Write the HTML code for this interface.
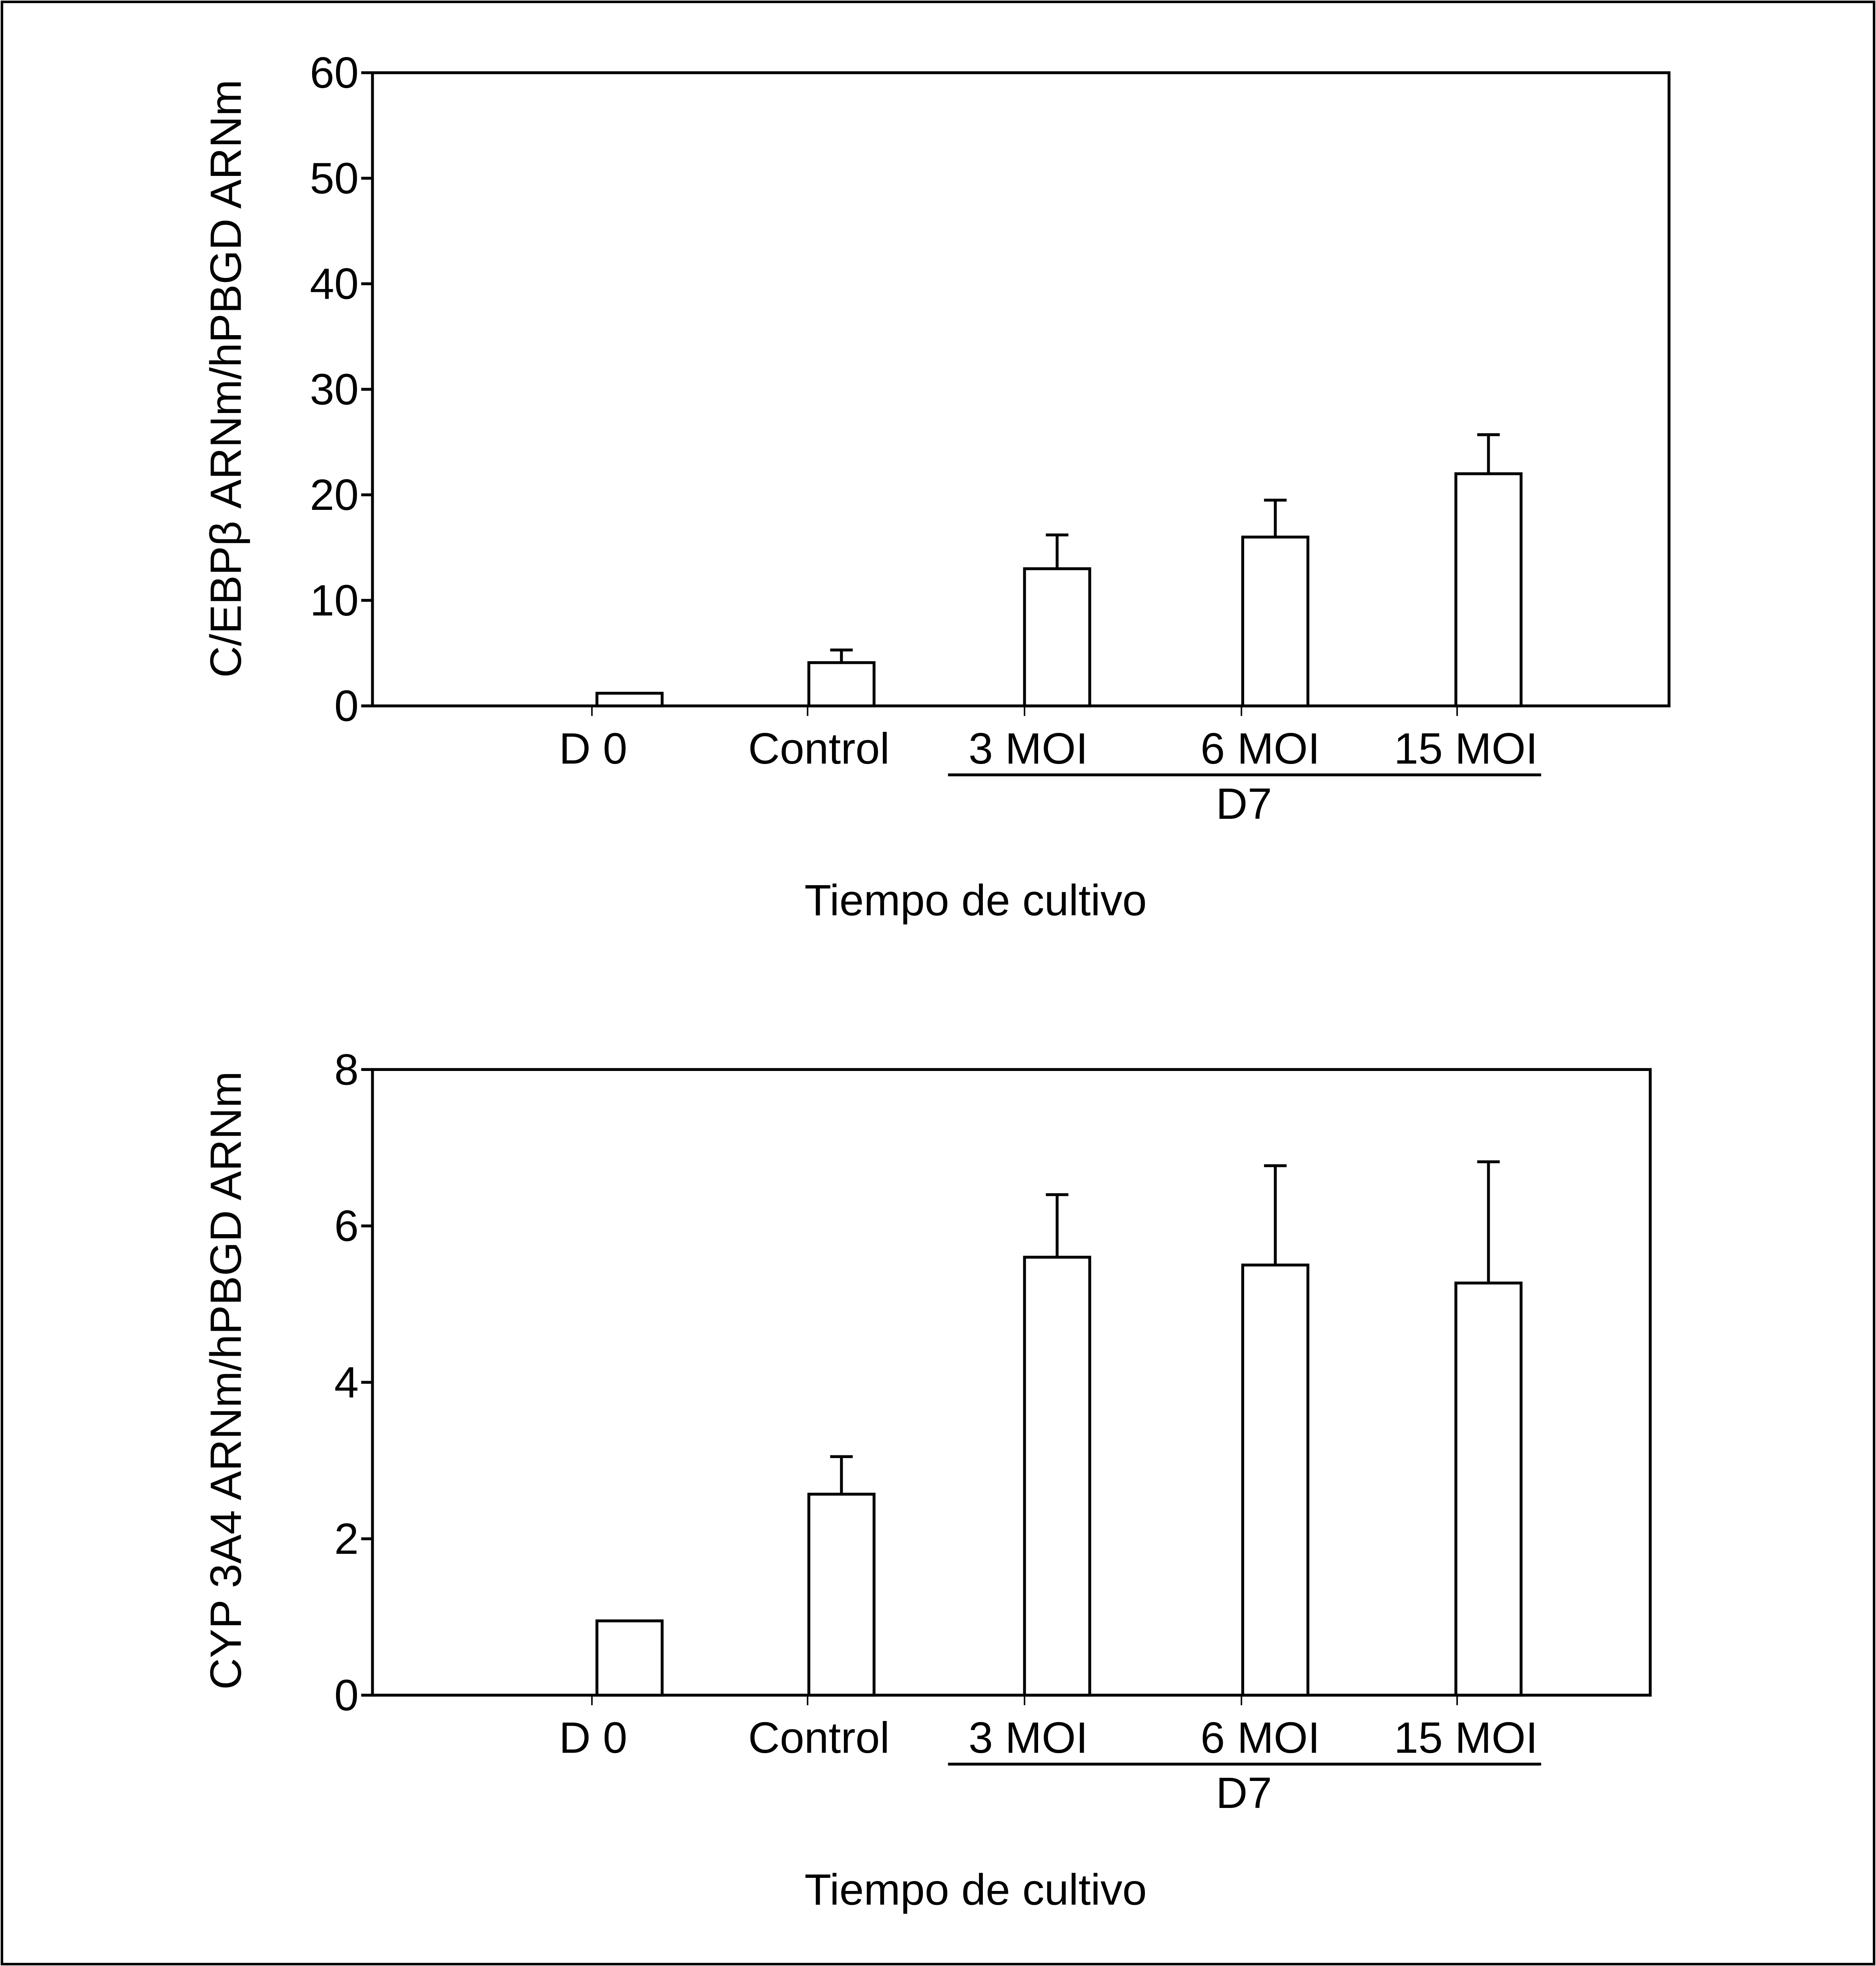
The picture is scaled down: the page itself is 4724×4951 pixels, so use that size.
<!DOCTYPE html>
<html><head><meta charset="utf-8"><style>html,body{margin:0;padding:0;background:#fff}svg{display:block}text{font-family:"Liberation Sans",sans-serif;fill:#000}</style></head>
<body>
<svg id="fig" width="4724" height="4951" viewBox="0 0 1496 1568" xmlns="http://www.w3.org/2000/svg">
<rect x="1.5" y="1.5" width="1493" height="1565" fill="#fff" stroke="#000" stroke-width="2"/>
</svg>
<script>
const categories = ["D 0","Control","3 MOI","6 MOI","15 MOI"];
const topValues = [1.2, 4.1, 13.0, 16.0, 22.0];
const topErrors = [0, 5.3, 16.2, 19.5, 25.7];
const topTicks = [0,10,20,30,40,50,60];
const botValues = [0.95, 2.57, 5.6, 5.5, 5.27];
const botErrors = [0, 3.05, 6.4, 6.77, 6.82];
const botTicks = [0,2,4,6,8];

const NS="http://www.w3.org/2000/svg";
const svg=document.getElementById('fig');
function mk(tag,attrs,parent){const e=document.createElementNS(NS,tag);for(const k in attrs)e.setAttribute(k,attrs[k]);(parent||svg).appendChild(e);return e;}
const barCenters=[502,671,843,1017,1187];
const tickX=[472,644,817,990,1162];
const labelX=[473,653,820,1005,1169];
const SW=2.3;

function drawChart(o){
  const g=mk('g',{});
  
  
  const y=v=>o.bottom-(v-o.min)/(o.max-o.min)*(o.bottom-o.top);
  const box=mk('rect',{x:o.left,y:o.top,width:o.right-o.left,height:o.bottom-o.top,fill:'none',stroke:'#000','stroke-width':SW},g);
  
  
  o.ticks.forEach(t=>{
    const ty=y(t);
    const l=mk('line',{x1:o.left-9,x2:o.left,y1:ty,y2:ty,stroke:'#000','stroke-width':SW},g);
    
    
    const tx=mk('text',{x:o.left-11,y:ty+12,'text-anchor':'end','font-size':35},g);
    tx.textContent=t;
    
    
  });
  tickX.forEach(tx0=>{
    const l=mk('line',{x1:tx0,x2:tx0,y1:o.bottom,y2:o.bottom+8,stroke:'#000','stroke-width':1.2},g);
    
    
  });
  o.values.forEach((v,i)=>{
    const cx=barCenters[i], w=52;
    if(o.errors[i]>0){
      const e=mk('line',{x1:cx,x2:cx,y1:y(v),y2:y(o.errors[i]),stroke:'#000','stroke-width':SW},g);
      
      
      const c=mk('line',{x1:cx-9,x2:cx+9,y1:y(o.errors[i]),y2:y(o.errors[i]),stroke:'#000','stroke-width':SW},g);
      
      
    }
    const b=mk('rect',{x:cx-w/2,y:y(v),width:w,height:o.bottom-y(v),fill:'#fff',stroke:'#000','stroke-width':SW},g);
    
    
  });
  categories.forEach((c,i)=>{
    const t=mk('text',{x:labelX[i],y:o.bottom+46,'text-anchor':'middle','font-size':35},g);
    t.textContent=c;
    
    
  });
  const u=mk('line',{x1:756,x2:1229,y1:o.bottom+55,y2:o.bottom+55,stroke:'#000','stroke-width':SW},g);
  
  
  const d7=mk('text',{x:992,y:o.bottom+90,'text-anchor':'middle','font-size':35},g);
  d7.textContent='D7';
  
  
  const xt=mk('text',{x:778,y:o.bottom+167,'text-anchor':'middle','font-size':35},g);
  xt.textContent='Tiempo de cultivo';
  
  
  const cy=o.titleY;
  const yt=mk('text',{x:0,y:0,'text-anchor':'middle','font-size':35,transform:'translate(192,'+cy+') rotate(-90)'},g);
  yt.textContent=o.title;
  
  
}
drawChart({name:'cebpb-chart',left:297,right:1331,top:58,bottom:563,min:0,max:60,ticks:topTicks,values:topValues,errors:topErrors,title:'C/EBPβ ARNm/hPBGD ARNm',titleY:302});
drawChart({name:'cyp3a4-chart',left:297,right:1316,top:853,bottom:1352,min:0,max:8,ticks:botTicks,values:botValues,errors:botErrors,title:'CYP 3A4 ARNm/hPBGD ARNm',titleY:1101});
</script>
</body></html>
